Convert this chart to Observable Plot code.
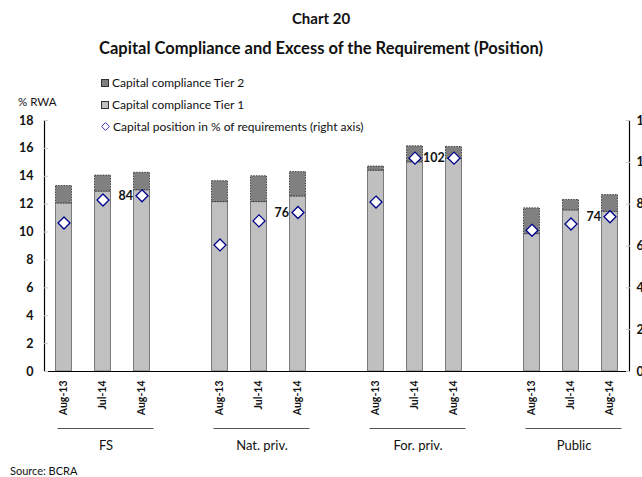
<!DOCTYPE html>
<html>
<head>
<meta charset="utf-8">
<script src="https://cdn.jsdelivr.net/npm/d3@7"></script>
<script src="https://cdn.jsdelivr.net/npm/@observablehq/plot@0.6"></script>
<style>
  html, body { margin: 0; padding: 0; background: #fff; }
  body { width: 642px; height: 477px; position: relative; overflow: hidden; font-family: Lato, "Open Sans", sans-serif; color: #111; }
  .abs { position: absolute; white-space: nowrap; }
  #title { top: 9px; left: 0; width: 642px; text-align: center; font-weight: bold; font-size: 15px; }
  #subtitle { top: 38px; left: 0; width: 642px; text-align: center; font-weight: bold; font-size: 16.5px; }
  #chart { position: absolute; top: 60px; left: 0; }
  .leg { font-size: 12px; left: 101px; display: flex; align-items: center; }
  .sw { width: 6px; height: 6px; margin-right: 3px; border: 1px solid #333; }
  #unit { left: 18px; top: 95px; font-size: 11.5px; }
  #source { left: 10px; top: 464px; font-size: 11px; }
  #chart svg [aria-label="y-axis tick label"] { font-weight: bold; font-size: 12.5px; }
</style>
</head>
<body>
<div id="title" class="abs">Chart 20</div>
<div id="subtitle" class="abs">Capital Compliance and Excess of the Requirement (Position)</div>
<div id="chart"></div>
<div id="unit" class="abs">% RWA</div>
<div class="abs leg" style="top:75px"><span class="sw" style="background:#808080"></span>Capital compliance Tier 2</div>
<div class="abs leg" style="top:97px"><span class="sw" style="background:#c0c0c0"></span>Capital compliance Tier 1</div>
<div class="abs leg" style="top:119px"><svg width="9" height="9" style="margin-right:3px"><path d="M4.5,0.6L8.4,4.5L4.5,8.4L0.6,4.5Z" fill="#fff" stroke="#2020c0" stroke-width="0.9"/></svg>Capital position in % of requirements (right axis)</div>
<div id="source" class="abs">Source: BCRA</div>
<script>
const groups = ["FS", "Nat. priv.", "For. priv.", "Public"];
const periods = ["Aug-13", "Jul-14", "Aug-14"];
// % of RWA, in order group x period
const tier1 = [12.05, 12.9, 13.0, 12.15, 12.15, 12.55, 14.4, 15.0, 15.25, 9.85, 11.55, 11.45];
const tier2 = [1.25, 1.15, 1.25, 1.5, 1.85, 1.75, 0.3, 1.15, 0.85, 1.85, 0.75, 1.2];
// capital position in % of requirements (right axis)
const position = [71, 82, 84, 60.5, 72, 76, 81, 102, 102, 67.5, 70.5, 74];
const leftTicks = [0, 2, 4, 6, 8, 10, 12, 14, 16, 18];
const rightTicks = [0, 20, 40, 60, 80, 100, 120];
const labelled = [["FS", "Aug-14", "left"], ["Nat. priv.", "Aug-14", "left"], ["For. priv.", "Jul-14", "right"], ["Public", "Aug-14", "left"]];

const leftMax = leftTicks[leftTicks.length - 1];
const rightMax = rightTicks[rightTicks.length - 1];
const k = leftMax / rightMax;
const step = periods.length + 1;
const hw = 0.205;

const rows = groups.flatMap((g, gi) => periods.map((p, pi) => {
  const i = gi * periods.length + pi;
  return {g, p, pos: gi * step + pi, t1: tier1[i], t2: tier2[i], cp: position[i]};
}));
const groupRows = groups.map((g, gi) => ({g, a: gi * step, b: gi * step + periods.length - 1}));
const labelRows = labelled.map(([g, p, side]) => ({...rows.find(r => r.g === g && r.p === p), side}));
const xDomain = [-0.5, groups.length * step - 1.5];

const font = "Lato, 'Open Sans', sans-serif";
const chart = Plot.plot({
  width: 642,
  height: 417,
  marginTop: 60,
  marginBottom: 106,
  marginLeft: 44,
  marginRight: 13,
  x: {domain: xDomain, axis: null},
  y: {domain: [0, leftMax], axis: null},
  style: {fontFamily: font, color: "#111", background: "transparent", overflow: "visible"},
  marks: [
    Plot.rectY(rows, {x1: d => d.pos - hw, x2: d => d.pos + hw, y1: 0, y2: "t1", fill: "#c0c0c0", stroke: "#7a7a7a", strokeWidth: 1}),
    Plot.rectY(rows, {x1: d => d.pos - hw, x2: d => d.pos + hw, y1: "t1", y2: d => d.t1 + d.t2, fill: "#808080", stroke: "#222", strokeWidth: 0.8, strokeDasharray: "1.5,1.2"}),
    Plot.ruleY([0], {stroke: "#000", strokeWidth: 1.2}),
    Plot.ruleX(xDomain, {stroke: "#000", strokeWidth: 1.2}),
    // left axis
    Plot.axisY({anchor: "left", label: null, ticks: leftTicks, tickSize: 4, dx: 4, tickFormat: () => "", stroke: "#c8c8c8"}),
    Plot.axisY({anchor: "left", label: null, ticks: leftTicks, tickSize: 0, tickPadding: 11, fontSize: 12.5, fontWeight: "bold"}),
    // right axis (capital position)
    Plot.axisY({anchor: "right", label: null, ticks: rightTicks.map(v => v * k), tickSize: 4, dx: -4, tickFormat: () => "", stroke: "#c8c8c8"}),
    Plot.axisY({anchor: "right", label: null, ticks: rightTicks.map(v => v * k), tickSize: 0, tickPadding: 7, tickFormat: v => Math.round(v / k), fontSize: 12.5, fontWeight: "bold"}),
    // diamonds
    Plot.dot(rows, {x: "pos", y: d => d.cp * k, symbol: "diamond2", r: 5.4, fill: "white", stroke: "#00008b", strokeWidth: 1.3}),
    // value labels
    Plot.text(labelRows.filter(d => d.side === "left"), {x: "pos", y: d => d.cp * k, text: d => String(d.cp), textAnchor: "end", dx: -9, fontSize: 12.5, fontWeight: "bold"}),
    Plot.text(labelRows.filter(d => d.side === "right"), {x: "pos", y: d => d.cp * k, text: d => String(d.cp), textAnchor: "start", dx: 8, fontSize: 12.5, fontWeight: "bold"}),
    // period labels (rotated)
    Plot.text(rows, {x: "pos", y: 0, text: "p", rotate: -90, textAnchor: "end", dy: 9, fontSize: 10.5, fontWeight: "bold"}),
    // group lines and labels
    Plot.ruleY(groupRows, {y: 0, x1: "a", x2: "b", insetLeft: -6, insetRight: -12, dy: 57, stroke: "#555", strokeWidth: 1}),
    Plot.text(groupRows, {x: d => (d.a + d.b) / 2, y: 0, text: "g", dx: 3, dy: 74, fontSize: 13})
  ]
});
document.getElementById("chart").appendChild(chart);
</script>
</body>
</html>
